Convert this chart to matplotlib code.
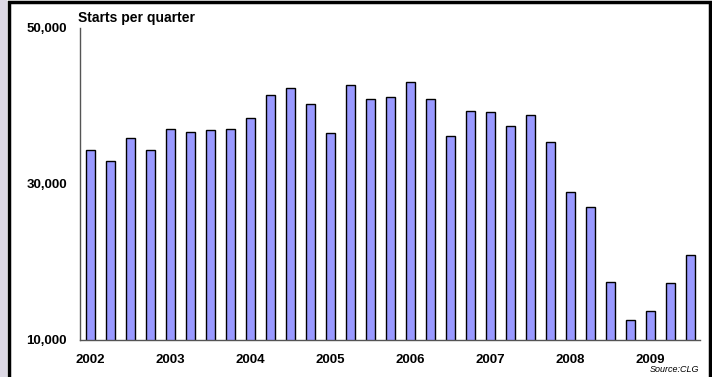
#!/usr/bin/env python3

import numpy as np
import matplotlib.pyplot as plt
from matplotlib.patches import Rectangle

plt.rcParams['font.family'] = ['Liberation Sans', 'DejaVu Sans']

# quarterly housing starts, 2002 Q1 - 2009 Q3
years = ["2002", "2003", "2004", "2005", "2006", "2007", "2008", "2009"]
starts = [34400, 32900, 35850, 34300,
          37000, 36700, 36950, 37100,
          38400, 41400, 42250, 40300,
          36600, 42750, 40900, 41100,
          43100, 40900, 36150, 39300,
          39250, 37500, 38900, 35400,
          29000, 27000, 17450, 12550,
          13750, 17300, 20850]

fig = plt.figure(figsize=(7.12, 3.77), dpi=100)
ax = fig.add_axes([80 / 712, 37 / 377, 620 / 712, 312 / 377])

x = np.arange(len(starts))
ax.bar(x, starts, width=0.45, color="#9999ff", edgecolor="black", linewidth=1)

ax.set_ylim(10000, 50000)
ax.set_xlim(-0.5, len(starts) - 0.5)
ax.set_yticks([10000, 30000, 50000])
ax.set_yticklabels(["10,000", "30,000", "50,000"], fontsize=9.5, fontweight="bold")
ax.set_xticks(np.arange(0, len(starts), 4))
ax.set_xticklabels(years, fontsize=9.5, fontweight="bold")
ax.tick_params(axis="y", length=0, pad=9.5)
ax.tick_params(axis="x", length=0, pad=10)

for side in ["top", "right"]:
    ax.spines[side].set_visible(False)
for side in ["left", "bottom"]:
    ax.spines[side].set_color("#555555")
    ax.spines[side].set_linewidth(1)

ax.text(-0.004, 1.02, "Starts per quarter", transform=ax.transAxes,
        fontsize=10, fontweight="bold", ha="left", va="baseline")
fig.text(674 / 712, 1 - 370 / 377, "Source:CLG", fontsize=6.5, style="italic",
         ha="center", va="center")

# outer frame like the original slide
fig.patches.append(Rectangle((0, 0), 7 / 712, 1, transform=fig.transFigure,
                             facecolor="#dcd8e4", edgecolor="none"))
fig.patches.append(Rectangle((8.5 / 712, -0.05), 701 / 712, 1.05 - 1.5 / 377,
                             transform=fig.transFigure, facecolor="none",
                             edgecolor="black", linewidth=2.5))

plt.savefig("out.png", dpi=100)
